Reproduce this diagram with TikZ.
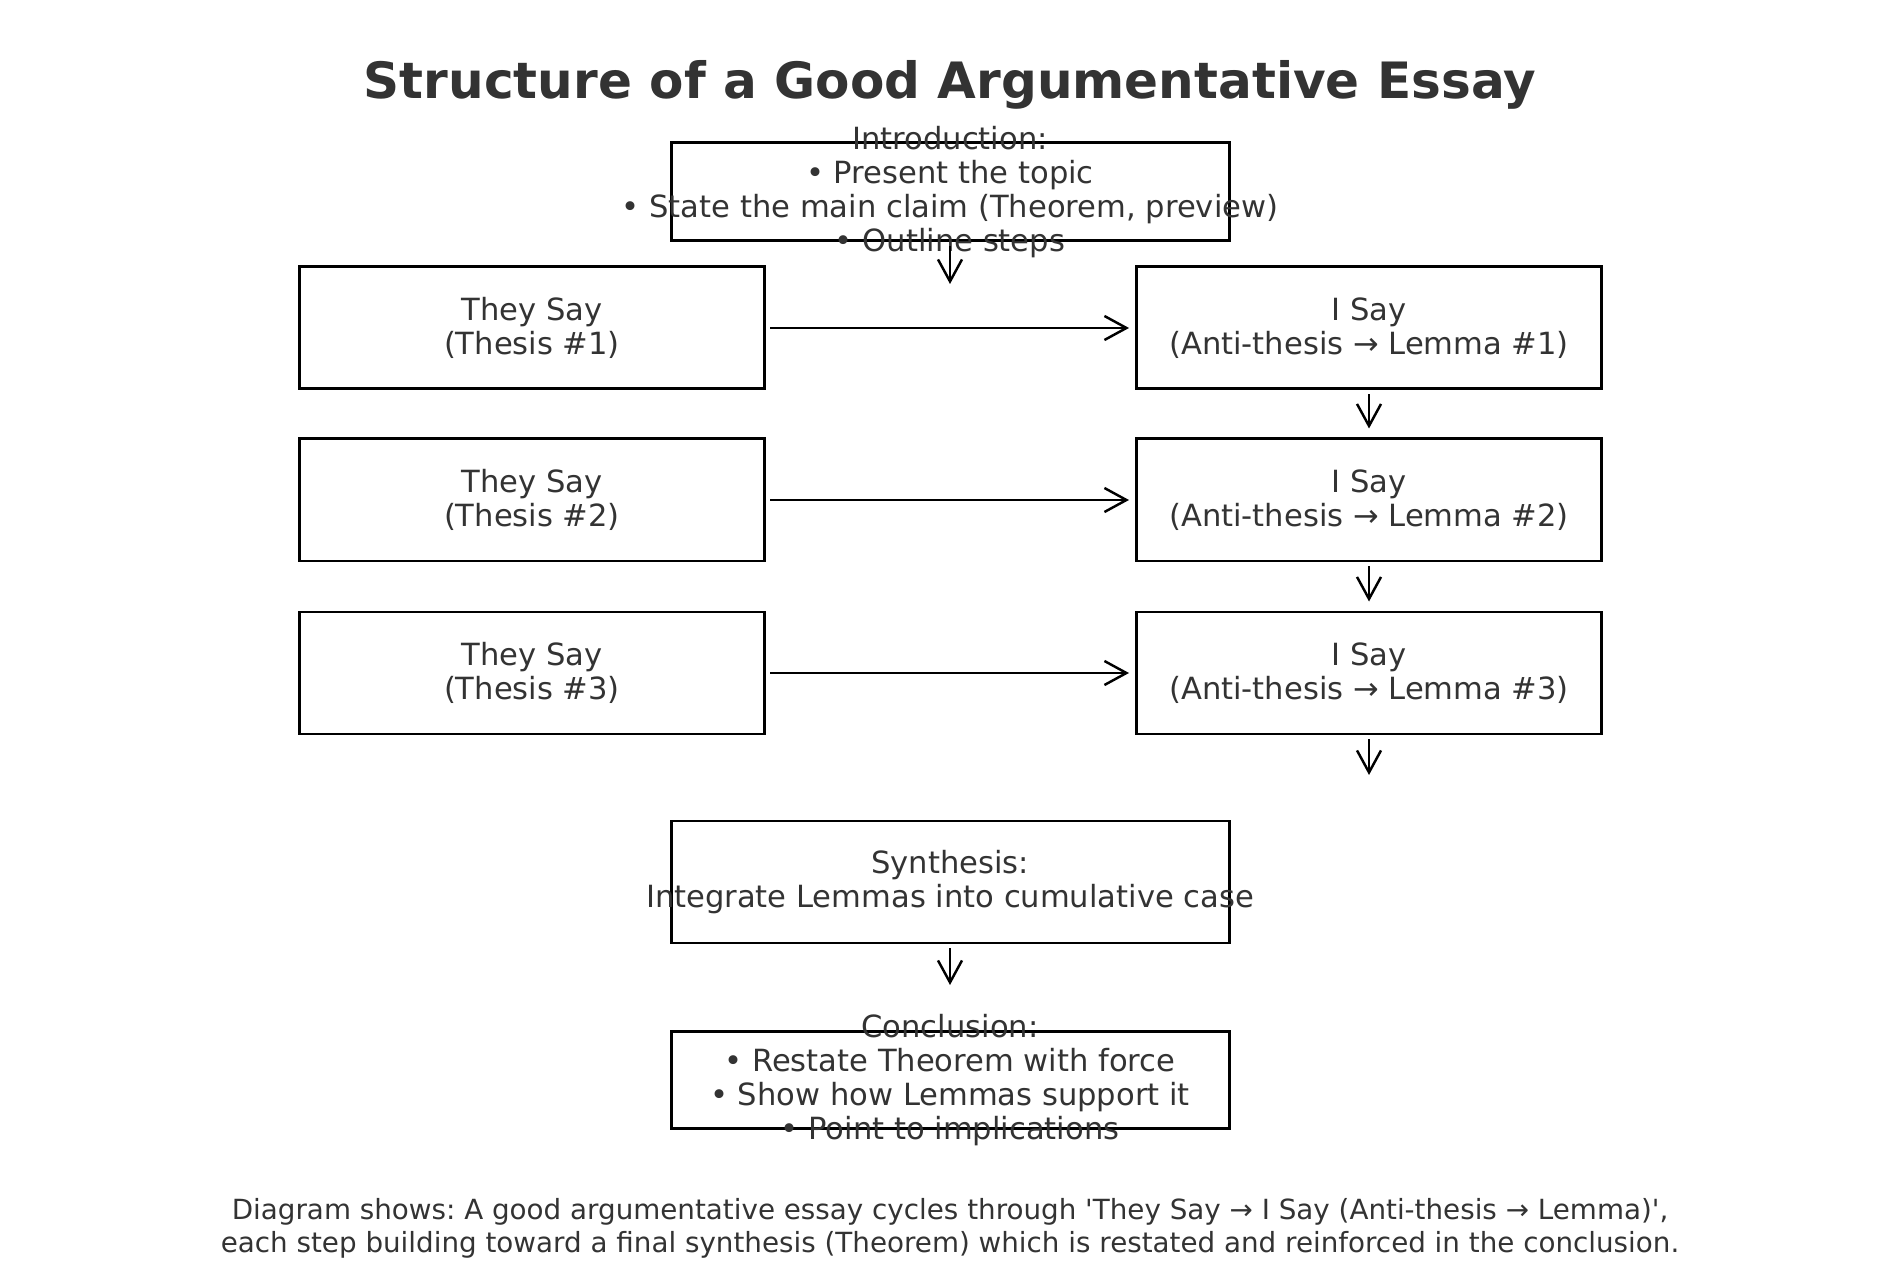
\documentclass[tikz,border=0pt]{standalone}
\usepackage{fontspec}
\setmainfont{DejaVu Sans}[Ligatures=TeXOff]
\usetikzlibrary{arrows.meta, positioning}
\definecolor{inkgray}{HTML}{333333}
\frenchspacing

\begin{document}
\begin{tikzpicture}[
    essay box/.style={draw, line width=0.85pt, minimum width=4.65cm, minimum height=1.22cm, inner sep=0pt},
    wide box/.style={essay box, minimum width=5.58cm},
    box text/.style={text=inkgray, align=center, font=\fontsize{8.7}{9.6}\selectfont},
    flow/.style={-{Straight Barb[length=2.2mm, width=2.4mm]}, line width=0.7pt, shorten <=0.4mm}]
    \useasboundingbox (0,0) rectangle (19,-12.77);

    \node[text=inkgray, font=\fontsize{14.25}{17}\bfseries\selectfont] (title) at (9.5,-0.85) {Structure of a Good Argumentative Essay};

    % opening and the three rounds
    \node[wide box, minimum height=0.98cm] (intro) at (9.5,-1.92) {};
    \node[box text] (introtext) at (intro) {Introduction:\\• Present the topic\\• State the main claim (Theorem, preview)\\• Outline steps};

    \node[essay box] (they1) at (5.32,-3.28) {};
    \node[essay box] (they2) at (5.32,-5.00) {};
    \node[essay box] (they3) at (5.32,-6.73) {};
    \node[box text] at (they1) {They Say\\(Thesis \#1)};
    \node[box text] at (they2) {They Say\\(Thesis \#2)};
    \node[box text] at (they3) {They Say\\(Thesis \#3)};

    \node[essay box] (isay1) at (13.69,-3.28) {};
    \node[essay box] (isay2) at (13.69,-5.00) {};
    \node[essay box] (isay3) at (13.69,-6.73) {};
    \node[box text] at (isay1) {I Say\\(Anti-thesis → Lemma \#1)};
    \node[box text] at (isay2) {I Say\\(Anti-thesis → Lemma \#2)};
    \node[box text] at (isay3) {I Say\\(Anti-thesis → Lemma \#3)};

    % closing part
    \node[wide box] (synth) at (9.5,-8.82) {};
    \node[box text] (synthtext) at (synth) {Synthesis:\\Integrate Lemmas into cumulative case};

    \node[wide box, minimum height=0.97cm] (concl) at (9.5,-10.80) {};
    \node[box text] (concltext) at (concl) {Conclusion:\\• Restate Theorem with force\\• Show how Lemmas support it\\• Point to implications};

    \node[text=inkgray, align=center, font=\fontsize{7.9}{9.4}\selectfont] (note) at (9.5,-12.28) {Diagram shows: A good argumentative essay cycles through 'They Say → I Say (Anti-thesis → Lemma)',\\each step building toward a final synthesis (Theorem) which is restated and reinforced in the conclusion.};

    \coordinate (introend) at (9.5,-2.84);
    \coordinate (isayend) at (13.69,-7.75);
    \coordinate (synthend) at (9.5,-9.85);

    \draw[flow] (intro) -- (introend);
    \draw[flow, shorten >=0.6mm] (they1) -- (isay1);
    \draw[flow, shorten >=0.6mm] (they2) -- (isay2);
    \draw[flow, shorten >=0.6mm] (they3) -- (isay3);
    \draw[flow, shorten >=0.9mm] (isay1) -- (isay2);
    \draw[flow, shorten >=0.9mm] (isay2) -- (isay3);
    \draw[flow] (isay3) -- (isayend);
    \draw[flow] (synth) -- (synthend);
\end{tikzpicture}
\end{document}
